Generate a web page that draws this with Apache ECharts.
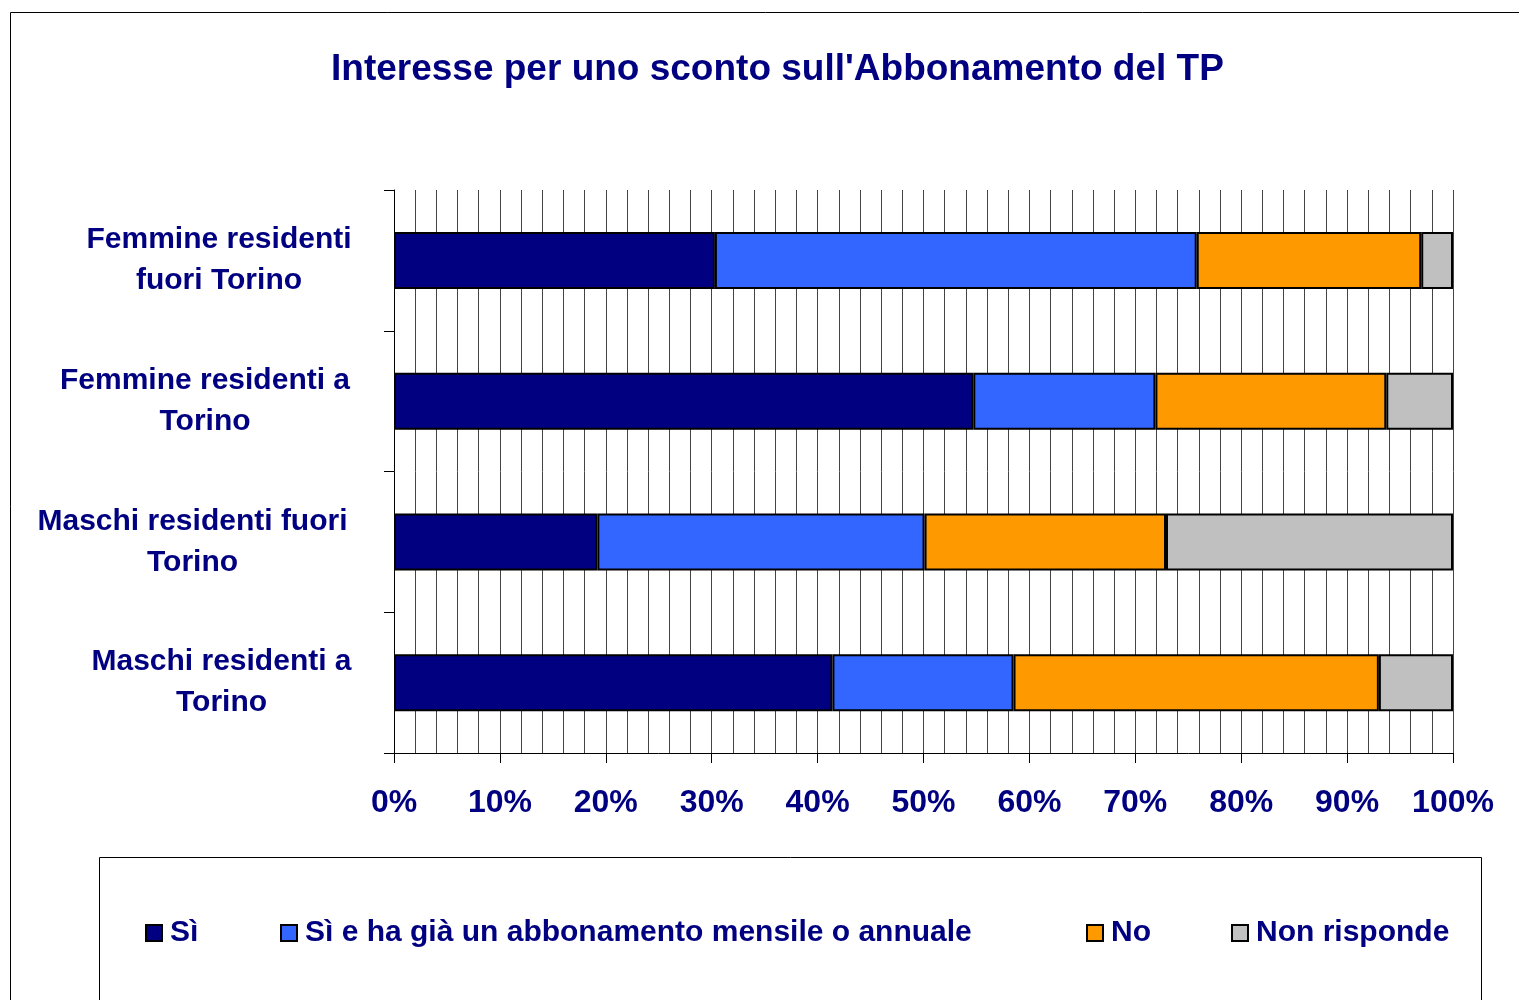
<!DOCTYPE html>
<html>
<head>
<meta charset="utf-8">
<script src="https://cdn.jsdelivr.net/npm/echarts@6/dist/echarts.min.js"></script>
<style>
    html, body { margin: 0; padding: 0; background: #fff; }
    #chart { width: 1519px; height: 1000px; }
</style>
</head>
<body>
<div id="chart"></div>
<script>
// categorie dall'alto verso il basso
const categories = ['Femmine residenti\nfuori Torino', 'Femmine residenti a\nTorino', 'Maschi residenti fuori\nTorino', 'Maschi residenti a\nTorino']
const seriesNames = ['Sì', 'Sì e ha già un abbonamento mensile o annuale', 'No', 'Non risponde']
const si = [30.3, 54.7, 19.2, 41.4]
const siAbbonamento = [45.5, 17.2, 30.9, 17.1]
const no = [21.2, 21.8, 22.8, 34.5]
const nonRisponde = [3.0, 6.3, 27.1, 7.0]
const xTicks = [0, 10, 20, 30, 40, 50, 60, 70, 80, 90, 100]

const navy = '#000080'
const font = 'Liberation Sans, Arial, sans-serif'
const colors = ['#000080', '#3366FF', '#FF9900', '#C0C0C0']
const values = [si, siAbbonamento, no, nonRisponde]
const legendLeft = [140, 275, 1081, 1226]
const labelWidths = [302, 330, 355, 297]

const rich = {}
labelWidths.forEach((w, i) => {
    rich['r' + i] = { width: w, align: 'center', fontSize: 30, fontWeight: 'bold', color: navy, fontFamily: font, lineHeight: 41 }
})

const option = {
    animation: false,
    title: {
        text: "Interesse per uno sconto sull'Abbonamento del TP",
        left: 326,
        top: 46,
        textStyle: { color: navy, fontSize: 37, fontWeight: 'bold', fontFamily: font }
    },
    legend: seriesNames.map((n, i) => ({
        data: [n],
        left: legendLeft[i],
        top: 913,
        icon: 'rect',
        itemWidth: 16,
        itemHeight: 16,
        itemGap: 0,
        textStyle: { color: navy, fontSize: 30, fontWeight: 'bold', fontFamily: font, padding: [0, 0, 0, 3] },
        selectedMode: false
    })),
    grid: {
        left: 394,
        right: 66,
        top: 190,
        bottom: 247
    },
    xAxis: {
        type: 'value',
        min: 0,
        max: 100,
        interval: 10,
        axisLine: { show: true, lineStyle: { color: '#000', width: 1 } },
        axisTick: { show: true, length: 10, lineStyle: { color: '#000' } },
        axisLabel: {
            formatter: v => xTicks.includes(v) ? v + '%' : '',
            margin: 34,
            color: navy,
            fontSize: 32,
            fontWeight: 'bold',
            fontFamily: font
        },
        splitLine: { show: true, lineStyle: { color: '#444', width: 1 } },
        minorTick: { show: false, splitNumber: 5 },
        minorSplitLine: { show: true, lineStyle: { color: '#444', width: 1 } }
    },
    yAxis: {
        type: 'category',
        inverse: true,
        data: categories,
        axisLine: { show: true, lineStyle: { color: '#000', width: 1 } },
        axisTick: { show: true, length: 10, lineStyle: { color: '#000' } },
        axisLabel: {
            margin: 24,
            formatter: (v, i) => v.split('\n').map(l => '{r' + i + '|' + l + '}').join('\n'),
            rich: rich
        },
        splitLine: { show: false }
    },
    series: seriesNames.map((n, i) => ({
        name: n,
        type: 'bar',
        stack: 'tot',
        barWidth: 57,
        data: values[i],
        itemStyle: { color: colors[i], borderColor: '#000', borderWidth: 2 }
    })),
    graphic: [
        {
            type: 'rect',
            silent: true,
            z: -10,
            shape: { x: 10.5, y: 12.5, width: 1600, height: 1100 },
            style: { fill: 'none', stroke: '#000', lineWidth: 1 }
        },
        {
            type: 'rect',
            silent: true,
            z: -10,
            shape: { x: 99.5, y: 857.5, width: 1382, height: 200 },
            style: { fill: 'none', stroke: '#000', lineWidth: 1 }
        }
    ]
}

const myChart = echarts.init(document.getElementById('chart'))
myChart.setOption(option)
</script>
</body>
</html>
